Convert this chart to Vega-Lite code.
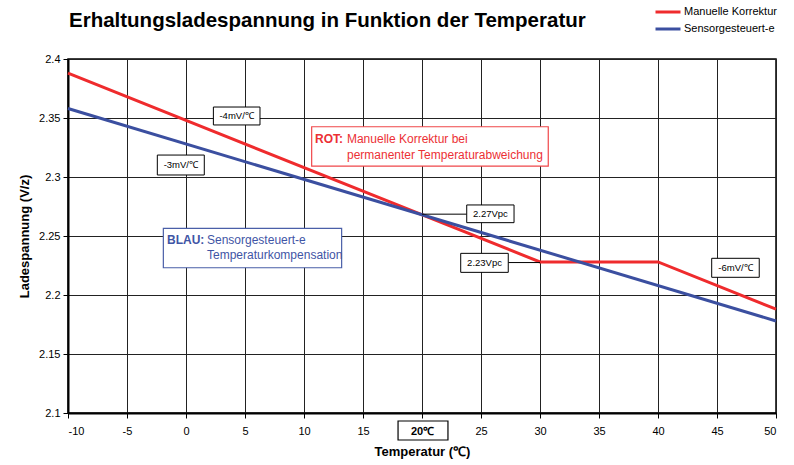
{
  "$schema": "https://vega.github.io/schema/vega-lite/v6.json",
  "width": 708,
  "height": 354,
  "autosize": {"type": "none"},
  "padding": {"left": 68, "top": 59, "right": 18, "bottom": 52},
  "background": "white",
  "config": {
    "font": "Liberation Sans",
    "view": {"stroke": "#000", "strokeWidth": 1.5},
    "axis": {
      "gridColor": "#222", "gridWidth": 1, "gridOpacity": 1,
      "domainColor": "#000", "domainWidth": 2,
      "tickColor": "#000", "tickSize": 5, "tickWidth": 1,
      "labelFont": "Liberation Sans", "labelFontSize": 11, "labelColor": "#000",
      "titleFont": "Liberation Sans", "titleFontSize": 13, "titleFontWeight": "bold", "titleColor": "#000"
    }
  },
  "title": {
    "text": "Erhaltungsladespannung in Funktion der Temperatur",
    "anchor": "start", "frame": "group", "orient": "top",
    "font": "Liberation Sans", "fontSize": 20.5, "fontWeight": "bold", "color": "#000",
    "baseline": "alphabetic", "offset": 0, "dy": 43, "dx": 1
  },
  "datasets": {
    "lines": [
      {"series": "Manuelle Korrektur", "t": -10, "v": 2.388},
      {"series": "Manuelle Korrektur", "t": 30, "v": 2.228},
      {"series": "Manuelle Korrektur", "t": 40, "v": 2.228},
      {"series": "Manuelle Korrektur", "t": 50, "v": 2.188},
      {"series": "Sensorgesteuert-e", "t": -10, "v": 2.358},
      {"series": "Sensorgesteuert-e", "t": 50, "v": 2.178}
    ],
    "leaders": [
      {"x": 20, "x2": 23.79, "y": 2.2685},
      {"x": 27.31, "x2": 30, "y": 2.2275}
    ],
    "callouts": [
      {"label": "-4mV/℃", "x": 2.32, "x2": 6.27, "y": 2.3593, "y2": 2.3441, "cx": 4.29, "cy": 2.3517},
      {"label": "-3mV/℃", "x": -2.43, "x2": 1.55, "y": 2.3186, "y2": 2.3017, "cx": -0.44, "cy": 2.3102},
      {"label": "2.27Vpc", "x": 23.79, "x2": 27.8, "y": 2.2763, "y2": 2.2613, "cx": 25.8, "cy": 2.2688},
      {"label": "2.23Vpc", "x": 23.28, "x2": 27.31, "y": 2.2353, "y2": 2.2192, "cx": 25.3, "cy": 2.2273},
      {"label": "-6mV/℃", "x": 44.55, "x2": 48.58, "y": 2.2311, "y2": 2.215, "cx": 46.57, "cy": 2.223}
    ],
    "tickbox": [
      {"x": 17.97, "x2": 22.2, "y": 2.0932, "y2": 2.0771}
    ],
    "rotbox": [
      {"x": 10.65, "x2": 30.7, "y": 2.3426, "y2": 2.3093}
    ],
    "blaubox": [
      {"x": -1.92, "x2": 13.19, "y": 2.2565, "y2": 2.2231}
    ],
    "rotHead": [{"x": 10.93, "y": 2.3322, "text": "ROT:"}],
    "rotBody": [
      {"x": 13.64, "y": 2.3322, "text": "Manuelle Korrektur bei"},
      {"x": 13.64, "y": 2.3186, "text": "permanenter Temperaturabweichung"}
    ],
    "blauHead": [{"x": -1.61, "y": 2.2462, "text": "BLAU:"}],
    "blauBody": [
      {"x": 1.78, "y": 2.2462, "text": "Sensorgesteuert-e"},
      {"x": 1.78, "y": 2.2343, "text": "Temperaturkompensation"}
    ]
  },
  "layer": [
    {
      "data": {"name": "lines"},
      "mark": {"type": "line", "strokeWidth": 3},
      "encoding": {
        "x": {
          "field": "t", "type": "quantitative",
          "scale": {"domain": [-10, 50], "nice": false, "zero": false},
          "axis": {
            "values": [-10, -5, 0, 5, 10, 15, 20, 25, 30, 35, 40, 45, 50],
            "title": "Temperatur (℃)", "titlePadding": 9, "labelPadding": 7,
            "labelExpr": "datum.value == 20 ? '20℃' : '' + datum.value",
            "labelFontWeight": {"condition": {"test": "datum.value == 20", "value": "bold"}, "value": "normal"}
          }
        },
        "y": {
          "field": "v", "type": "quantitative",
          "scale": {"domain": [2.1, 2.4], "nice": false, "zero": false},
          "axis": {
            "values": [2.1, 2.15, 2.2, 2.25, 2.3, 2.35, 2.4],
            "format": ".2~f", "title": "Ladespannung (V/z)", "titlePadding": 7, "labelPadding": 3
          }
        },
        "color": {
          "field": "series", "type": "nominal",
          "scale": {"domain": ["Manuelle Korrektur", "Sensorgesteuert-e"], "range": ["#ef2b2d", "#3b4fa0"]},
          "legend": {
            "title": null, "orient": "none", "legendX": 586, "legendY": -55,
            "symbolType": "M-1,0L1,0", "symbolSize": 625, "symbolStrokeWidth": 3,
            "clipHeight": 16, "rowPadding": 1, "labelOffset": 2,
            "labelFont": "Liberation Sans", "labelFontSize": 11, "labelColor": "#000"
          }
        }
      }
    },
    {
      "data": {"name": "leaders"},
      "mark": {"type": "rule", "color": "#000", "strokeWidth": 1},
      "encoding": {
        "x": {"field": "x", "type": "quantitative"},
        "x2": {"field": "x2"},
        "y": {"field": "y", "type": "quantitative"}
      }
    },
    {
      "data": {"name": "callouts"},
      "mark": {"type": "rect", "fill": "white", "stroke": "#000", "strokeWidth": 1},
      "encoding": {
        "x": {"field": "x", "type": "quantitative"},
        "x2": {"field": "x2"},
        "y": {"field": "y", "type": "quantitative"},
        "y2": {"field": "y2"}
      }
    },
    {
      "data": {"name": "callouts"},
      "mark": {"type": "text", "font": "Liberation Sans", "fontSize": 9.5, "color": "#000", "align": "center", "baseline": "middle"},
      "encoding": {
        "x": {"field": "cx", "type": "quantitative"},
        "y": {"field": "cy", "type": "quantitative"},
        "text": {"field": "label"}
      }
    },
    {
      "data": {"name": "tickbox"},
      "mark": {"type": "rect", "fill": null, "stroke": "#000", "strokeWidth": 1.2},
      "encoding": {
        "x": {"field": "x", "type": "quantitative"},
        "x2": {"field": "x2"},
        "y": {"field": "y", "type": "quantitative"},
        "y2": {"field": "y2"}
      }
    },
    {
      "data": {"name": "rotbox"},
      "mark": {"type": "rect", "fill": "white", "stroke": "#f0474a", "strokeWidth": 1.2},
      "encoding": {
        "x": {"field": "x", "type": "quantitative"},
        "x2": {"field": "x2"},
        "y": {"field": "y", "type": "quantitative"},
        "y2": {"field": "y2"}
      }
    },
    {
      "data": {"name": "blaubox"},
      "mark": {"type": "rect", "fill": "white", "stroke": "#4a5fa8", "strokeWidth": 1.2},
      "encoding": {
        "x": {"field": "x", "type": "quantitative"},
        "x2": {"field": "x2"},
        "y": {"field": "y", "type": "quantitative"},
        "y2": {"field": "y2"}
      }
    },
    {
      "data": {"name": "rotHead"},
      "mark": {"type": "text", "font": "Liberation Sans", "fontSize": 12, "fontWeight": "bold", "color": "#ec3035", "align": "left", "baseline": "middle"},
      "encoding": {
        "x": {"field": "x", "type": "quantitative"},
        "y": {"field": "y", "type": "quantitative"},
        "text": {"field": "text"}
      }
    },
    {
      "data": {"name": "rotBody"},
      "mark": {"type": "text", "font": "Liberation Sans", "fontSize": 12, "color": "#ec3035", "align": "left", "baseline": "middle"},
      "encoding": {
        "x": {"field": "x", "type": "quantitative"},
        "y": {"field": "y", "type": "quantitative"},
        "text": {"field": "text"}
      }
    },
    {
      "data": {"name": "blauHead"},
      "mark": {"type": "text", "font": "Liberation Sans", "fontSize": 12, "fontWeight": "bold", "color": "#3f55a5", "align": "left", "baseline": "middle"},
      "encoding": {
        "x": {"field": "x", "type": "quantitative"},
        "y": {"field": "y", "type": "quantitative"},
        "text": {"field": "text"}
      }
    },
    {
      "data": {"name": "blauBody"},
      "mark": {"type": "text", "font": "Liberation Sans", "fontSize": 12, "color": "#3f55a5", "align": "left", "baseline": "middle"},
      "encoding": {
        "x": {"field": "x", "type": "quantitative"},
        "y": {"field": "y", "type": "quantitative"},
        "text": {"field": "text"}
      }
    }
  ]
}
